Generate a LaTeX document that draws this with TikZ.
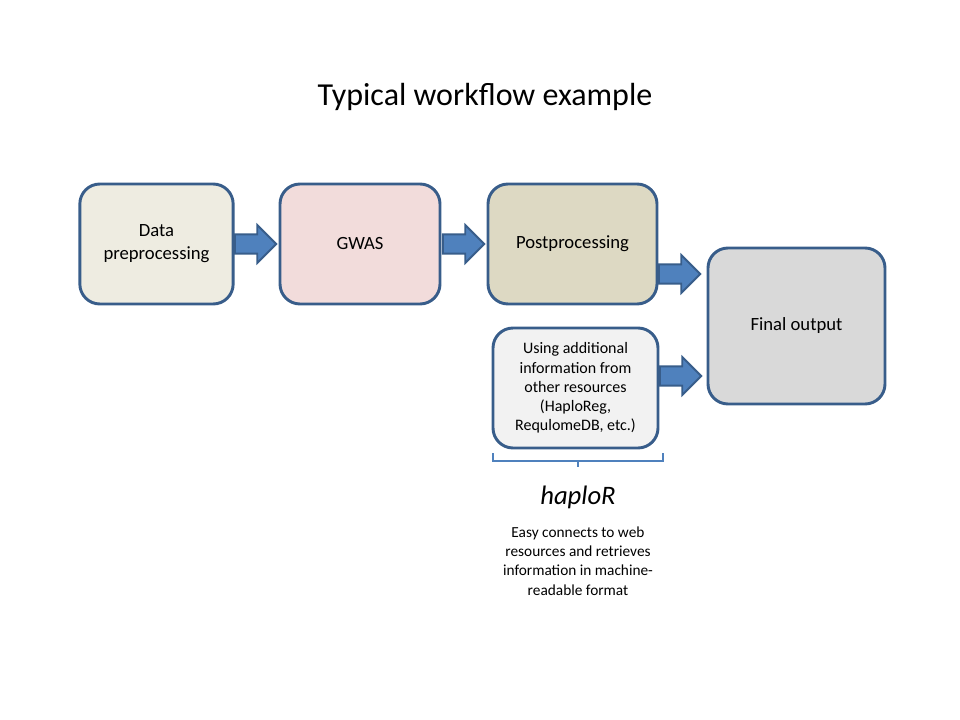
\documentclass[tikz,border=0pt]{standalone}
\usepackage{fontspec}
\setmainfont{Carlito}
\usetikzlibrary{shapes.arrows,calc}
\definecolor{edgeblue}{HTML}{385D8A}
\definecolor{arrowblue}{HTML}{4F81BD}
\definecolor{cA}{HTML}{EEECE1}
\definecolor{cB}{HTML}{F2DCDB}
\definecolor{cC}{HTML}{DDD9C3}
\definecolor{cD}{HTML}{D9D9D9}
\definecolor{cE}{HTML}{F2F2F2}
\begin{document}
\begin{tikzpicture}[x=0.75pt,y=-0.75pt,
  box/.style={draw=edgeblue,line width=2.2pt,rounded corners=15pt,align=center,inner sep=0pt},
  barrow/.style={single arrow,draw=edgeblue,fill=arrowblue,line width=1.4pt,inner xsep=0pt,inner ysep=6.5pt,
     single arrow head extend=7pt,minimum height=31pt,anchor=tip}]
\useasboundingbox (0,0) rectangle (960,720);
\node[font=\fontsize{24}{29}\selectfont] (title) at (485,97) {Typical workflow example};
\node[box,fill=cA,minimum width=115pt,minimum height=90pt,font=\fontsize{14}{17.25}\selectfont] (b1) at (156.5,244) {Data\\preprocessing};
\node[box,fill=cB,minimum width=120pt,minimum height=90pt,font=\fontsize{14}{17.25}\selectfont] (b2) at (360,244) {GWAS};
\node[box,fill=cC,minimum width=126.75pt,minimum height=90pt,font=\fontsize{14}{17.25}\selectfont] (b3) at (572.5,244) {Postprocessing};
\node[box,fill=cD,minimum width=132.75pt,minimum height=117pt,font=\fontsize{14}{17.25}\selectfont] (b4) at (796.5,326) {Final output};
\node[box,fill=cE,minimum width=123.75pt,minimum height=90pt,font=\fontsize{12}{14.4}\selectfont] (b5) at (575.5,388) {Using additional\\information from\\other resources\\(HaploReg,\\RequlomeDB, etc.)};
\node[barrow] (a1) at ($(b2.west)+(-1,0)$) {};
\node[barrow] (a2) at ($(b3.west)+(-1,0)$) {};
\node[barrow] (a3) at ($(b4.west |- 0,274)+(-5,0)$) {};
\node[barrow] (a4) at ($(b4.west |- 0,376)+(-4,0)$) {};
\coordinate (brl) at (493,453);
\coordinate (brr) at (663,453);
\coordinate (brm) at (578,467);
\draw[arrowblue,line width=0.9pt] (brl) -- (brl |- 0,461) -- (brm |- 0,461) -- (brm);
\draw[arrowblue,line width=0.9pt] (brr) -- (brr |- 0,461) -- (brm |- 0,461);
\node[font=\fontsize{20}{24}\selectfont\itshape] (hap) at (578,497) {haploR};
\node[font=\fontsize{11.5}{14.5}\selectfont,align=center] (desc) at (578,561) {Easy connects to web\\resources and retrieves\\information in machine-\\readable format};
\end{tikzpicture}
\end{document}
